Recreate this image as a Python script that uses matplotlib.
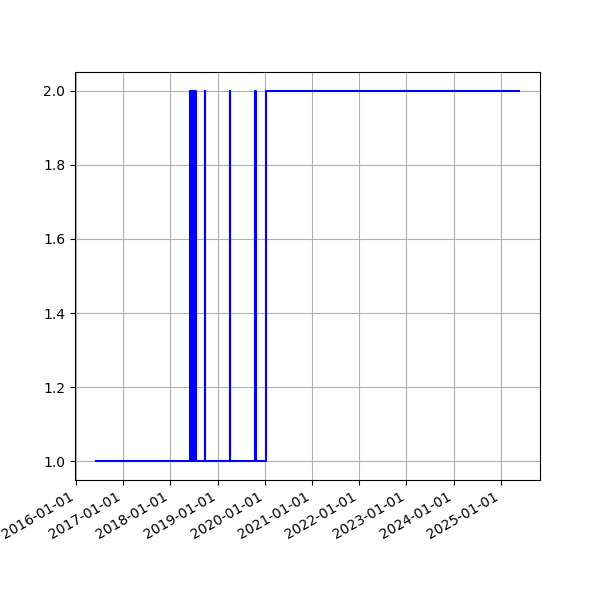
import numpy as np
import pandas as pd
import matplotlib
matplotlib.use("Agg")
import matplotlib.pyplot as plt
import matplotlib.dates as mdates

# Change points of the series (value holds until the next date)
change_dates = [
    "2016-06-05",
    "2018-05-29", "2018-06-12", "2018-06-14", "2018-06-24",
    "2018-06-26", "2018-07-07", "2018-07-09", "2018-07-20",
    "2018-09-27", "2018-09-28",
    "2019-04-08", "2019-04-09",
    "2019-10-21", "2019-10-22",
    "2020-01-11",
    "2025-05-20",
]
change_values = [
    1,
    2, 1, 2, 1,
    2, 1, 2, 1,
    2, 1,
    2, 1,
    2, 1,
    2,
    2,
]


def main():
    dates = pd.to_datetime(change_dates)
    values = np.array(change_values, dtype=float)

    fig, ax = plt.subplots(figsize=(6, 6), dpi=100)
    ax.plot(dates, values, color="blue", drawstyle="steps-post")

    ax.xaxis.set_major_locator(mdates.YearLocator())
    ax.xaxis.set_major_formatter(mdates.DateFormatter("%Y-%m-%d"))
    ax.grid(True)
    fig.autofmt_xdate()

    fig.savefig("out.png", dpi=100)
    plt.close(fig)


if __name__ == "__main__":
    main()
